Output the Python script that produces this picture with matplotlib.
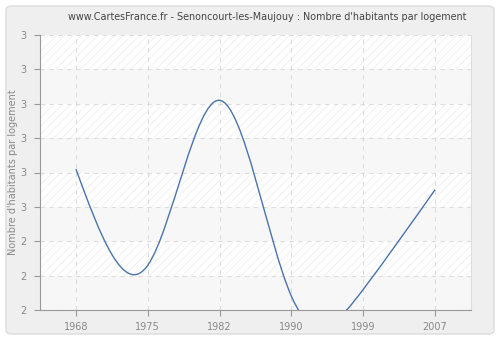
#!/usr/bin/env python3

import numpy as np
import matplotlib
matplotlib.use('Agg')
import matplotlib.pyplot as plt
from matplotlib.path import Path
from matplotlib.patches import PathPatch, FancyBboxPatch
from matplotlib.ticker import FuncFormatter

# -- Data
years = ['1968', '1975', '1982', '1990', '1999', '2007']
habitants_par_logement = [2.61, 2.33, 2.81, 2.24, 2.26, 2.55]

title = "www.CartesFrance.fr - Senoncourt-les-Maujouy : Nombre d'habitants par logement"
y_label = "Nombre d'habitants par logement"


def natural_spline_path(xs, ys):
    # natural cubic spline through the points, drawn as bezier segments
    n = len(ys)
    A = np.zeros((n, n))
    d = np.zeros(n)
    A[0, 0] = A[-1, -1] = 1
    for i in range(1, n - 1):
        A[i, i - 1], A[i, i], A[i, i + 1] = 1, 4, 1
        d[i] = 6 * (ys[i + 1] - 2 * ys[i] + ys[i - 1])
    M = np.linalg.solve(A, d)
    verts = [(xs[0], ys[0])]
    codes = [Path.MOVETO]
    for i in range(n - 1):
        dy = ys[i + 1] - ys[i]
        s0 = dy - (2 * M[i] + M[i + 1]) / 6
        s1 = dy + (M[i] + 2 * M[i + 1]) / 6
        verts += [(xs[i] + 1 / 3, ys[i] + s0 / 3),
                  (xs[i + 1] - 1 / 3, ys[i + 1] - s1 / 3),
                  (xs[i + 1], ys[i + 1])]
        codes += [Path.CURVE4] * 3
    return Path(verts, codes)


fig = plt.figure(figsize=(5, 3.4), dpi=100, facecolor='white')

# -- rounded grey frame (behind the axes)
frame = FancyBboxPatch((6 / 500, 6 / 340), 488 / 500, 328 / 340,
                       boxstyle='round,pad=0,rounding_size=0.012',
                       transform=fig.transFigure, facecolor='#efefef',
                       edgecolor='#dcdcdc', linewidth=1, zorder=-10)
fig.patches.append(frame)

ax = fig.add_axes([40 / 500, 30 / 340, 431 / 500, 275 / 340])
ax.set_facecolor('white')

y_min, y_max, y_step = 2.2, 3.0, 0.1
ticks_y = np.arange(y_min, y_max + y_step / 2, y_step)

# -- hatched background and alternating bands
plt.rcParams['hatch.linewidth'] = 0.5
ax.axhspan(y_min, y_max, facecolor='white', edgecolor='#ececec',
           hatch='////', linewidth=0, zorder=0)
for i in range(0, len(ticks_y) - 1, 2):
    ax.axhspan(ticks_y[i], ticks_y[i + 1], facecolor='#f7f7f7',
               alpha=0.9, linewidth=0, zorder=0.5)

x = np.arange(len(years))
curve = PathPatch(natural_spline_path(x, habitants_par_logement),
                  facecolor='none', edgecolor='#4a74aa', linewidth=1.0,
                  zorder=3)
ax.add_patch(curve)

ax.set_xlim(-0.5, len(years) - 0.5)
ax.set_ylim(y_min, y_max)
ax.set_xticks(x)
ax.set_xticklabels(years)
ax.set_yticks(ticks_y)
ax.yaxis.set_major_formatter(FuncFormatter(lambda v, p: '%d' % int(v + 0.5 + 1e-9)))

ax.grid(True, color='#dddddd', linestyle=(0, (4, 4)), linewidth=0.8, zorder=1)

ax.spines['top'].set_visible(False)
ax.spines['right'].set_color('#dddddd')
ax.spines['left'].set_color('#999999')
ax.spines['bottom'].set_color('#999999')
ax.tick_params(colors='#999999', labelcolor='#888888', labelsize=7,
               length=4, width=0.8)
ax.tick_params(axis='y', pad=6)
ax.tick_params(axis='x', pad=5)

ax.set_ylabel(y_label, color='#888888', fontsize=7, labelpad=1)
fig.text(267 / 500, 1 - 17 / 340, title, ha='center', va='center',
         fontsize=6.9, color='#444444')

plt.savefig('out.png', dpi=100, facecolor='white')
